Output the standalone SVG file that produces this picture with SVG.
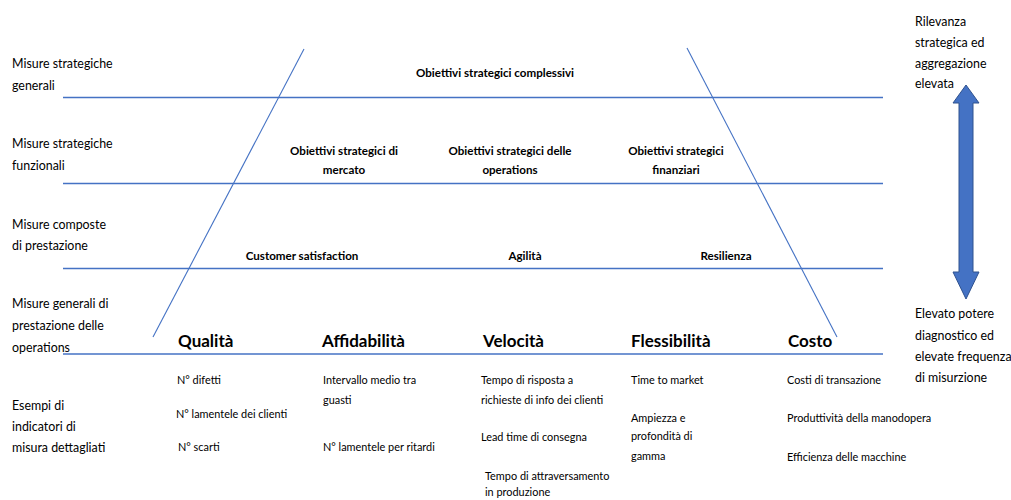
<svg xmlns="http://www.w3.org/2000/svg" width="1011" height="500" viewBox="0 0 1011 500">
  <style>
    text { font-family: Lato, "Open Sans", "Liberation Sans", sans-serif; fill: #000; }
    .lbl { font-size: 12.4px; }
    .obj { font-size: 11.6px; font-weight: bold; text-anchor: middle; }
    .dim { font-size: 17px; font-weight: bold; }
    .ind { font-size: 10.9px; }
    .rule { stroke: #4472C4; stroke-width: 1.5; fill: none; }
    .slant { stroke: #4472C4; stroke-width: 1.1; fill: none; }
  </style>

  <!-- row separators and funnel sides -->
  <g id="connectors">
    <line class="rule" x1="63" y1="97.5" x2="883" y2="97.5"/>
    <line class="rule" x1="63" y1="183.5" x2="883" y2="183.5"/>
    <line class="rule" x1="63" y1="268.5" x2="883" y2="268.5"/>
    <line class="rule" x1="63" y1="354" x2="883" y2="354"/>
    <line class="slant" x1="304" y1="49" x2="153" y2="337"/>
    <line class="slant" x1="687" y1="48" x2="837" y2="337"/>
  </g>

  <!-- level labels on the left -->
  <g id="row-labels">
    <text class="lbl" x="12" y="68">Misure strategiche</text>
    <text class="lbl" x="12" y="90">generali</text>
    <text class="lbl" x="12" y="148">Misure strategiche</text>
    <text class="lbl" x="12" y="170">funzionali</text>
    <text class="lbl" x="12" y="229">Misure composte</text>
    <text class="lbl" x="12" y="250">di prestazione</text>
    <text class="lbl" x="12" y="308">Misure generali di</text>
    <text class="lbl" x="12" y="330">prestazione delle</text>
    <text class="lbl" x="12" y="352">operations</text>
    <text class="lbl" x="12" y="410">Esempi di</text>
    <text class="lbl" x="12" y="431">indicatori di</text>
    <text class="lbl" x="12" y="452">misura dettagliati</text>
  </g>

  <g id="obiettivi-complessivi">
    <text class="obj" x="495" y="77">Obiettivi strategici complessivi</text>
  </g>
  <g id="obiettivi-mercato">
    <text class="obj" x="344" y="155">Obiettivi strategici di</text>
    <text class="obj" x="344" y="174">mercato</text>
  </g>
  <g id="obiettivi-operations">
    <text class="obj" x="510" y="155">Obiettivi strategici delle</text>
    <text class="obj" x="510" y="174">operations</text>
  </g>
  <g id="obiettivi-finanziari">
    <text class="obj" x="676" y="155">Obiettivi strategici</text>
    <text class="obj" x="676" y="174">finanziari</text>
  </g>

  <g id="customer-satisfaction"><text class="obj" x="302" y="260">Customer satisfaction</text></g>
  <g id="agilita"><text class="obj" x="525" y="260">Agilità</text></g>
  <g id="resilienza"><text class="obj" x="726" y="260">Resilienza</text></g>

  <!-- performance dimensions with example indicators -->
  <g id="qualita">
    <text class="dim" x="178" y="347">Qualità</text>
    <text class="ind" x="177" y="384">N° difetti</text>
    <text class="ind" x="176" y="418">N° lamentele dei clienti</text>
    <text class="ind" x="178" y="451">N° scarti</text>
  </g>
  <g id="affidabilita">
    <text class="dim" x="322" y="347">Affidabilità</text>
    <text class="ind" x="323" y="384">Intervallo medio tra</text>
    <text class="ind" x="323" y="404">guasti</text>
    <text class="ind" x="323" y="451">N° lamentele per ritardi</text>
  </g>
  <g id="velocita">
    <text class="dim" x="483" y="347">Velocità</text>
    <text class="ind" x="481" y="384">Tempo di risposta a</text>
    <text class="ind" x="481" y="404">richieste di info dei clienti</text>
    <text class="ind" x="481" y="441">Lead time di consegna</text>
    <text class="ind" x="485" y="480">Tempo di attraversamento</text>
    <text class="ind" x="485" y="496">in produzione</text>
  </g>
  <g id="flessibilita">
    <text class="dim" x="631" y="347">Flessibilità</text>
    <text class="ind" x="631" y="384">Time to market</text>
    <text class="ind" x="631" y="422">Ampiezza e</text>
    <text class="ind" x="631" y="440">profondità di</text>
    <text class="ind" x="631" y="460">gamma</text>
  </g>
  <g id="costo">
    <text class="dim" x="788" y="347">Costo</text>
    <text class="ind" x="787" y="384">Costi di transazione</text>
    <text class="ind" x="787" y="422">Produttività della manodopera</text>
    <text class="ind" x="787" y="461">Efficienza delle macchine</text>
  </g>

  <!-- scale on the right -->
  <g id="scala-alta">
    <text class="lbl" x="915" y="26">Rilevanza</text>
    <text class="lbl" x="915" y="47">strategica ed</text>
    <text class="lbl" x="915" y="68">aggregazione</text>
    <text class="lbl" x="915" y="88">elevata</text>
  </g>
  <g id="freccia">
    <path d="M966 85 L979 103 L973 103 L973 272 L979 272 L966 299 L953 272 L959 272 L959 103 L953 103 Z" fill="#4472C4" stroke="#2F528F" stroke-width="1"/>
  </g>
  <g id="scala-bassa">
    <text class="lbl" x="915" y="318">Elevato potere</text>
    <text class="lbl" x="915" y="340">diagnostico ed</text>
    <text class="lbl" x="915" y="361">elevate frequenza</text>
    <text class="lbl" x="915" y="382">di misurzione</text>
  </g>
</svg>
